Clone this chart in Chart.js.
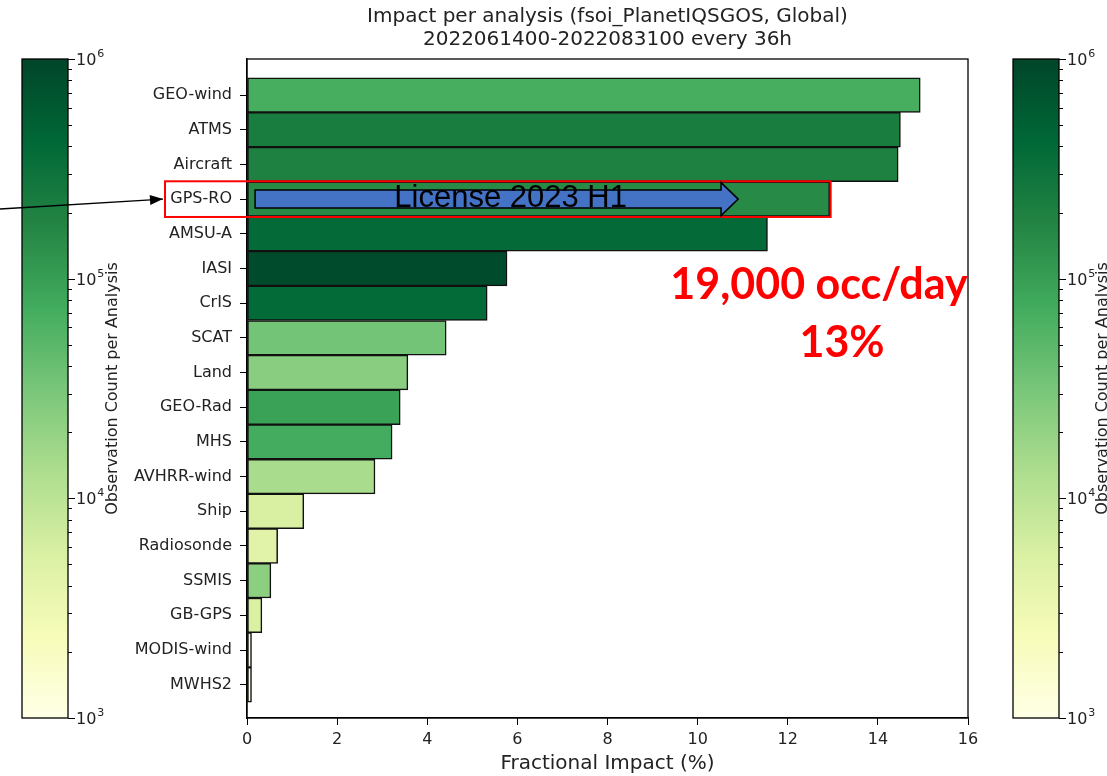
<!DOCTYPE html>
<html>
<head>
<meta charset="utf-8">
<script src="https://cdn.jsdelivr.net/npm/chart.js@4"></script>
<style>
body{margin:0;background:#fff;}
#wrap{position:relative;width:1107px;height:776px;overflow:hidden;background:#fff;}
#wrap canvas{position:absolute;top:0;}
#cbLeft{left:0;z-index:1;}
#cbRight{left:991px;z-index:1;}
#main{left:0;z-index:2;}
</style>
</head>
<body>
<div id="wrap">
<canvas id="cbLeft" width="140" height="776"></canvas>
<canvas id="cbRight" width="116" height="776"></canvas>
<canvas id="main" width="1107" height="776"></canvas>
</div>
<script>

// data
const categories = ["GEO-wind","ATMS","Aircraft","GPS-RO","AMSU-A","IASI","CrIS","SCAT","Land","GEO-Rad","MHS","AVHRR-wind","Ship","Radiosonde","SSMIS","GB-GPS","MODIS-wind","MWHS2"];
const impact = [14.94,14.50,14.45,12.93,11.55,5.77,5.33,4.42,3.57,3.40,3.22,2.84,1.26,0.68,0.53,0.33,0.10,0.10];
const obsCount = [68000,220000,200000,155000,380000,870000,390000,34000,24000,92000,72000,14000,5600,4600,22500,5400,1000,1000];
const xTicks = [0,2,4,6,8,10,12,14,16];
const cbMajor = [1e3,1e4,1e5,1e6];
const titleLines = ["Impact per analysis (fsoi_PlanetIQSGOS, Global)","2022061400-2022083100 every 36h"];
const xTitle = "Fractional Impact (%)";
const cbTitle = "Observation Count per Analysis";
const noteCategory = "GPS-RO";
const arrowText = "License 2023 H1";
const noteLines = ["19,000 occ/day","13%"];

const FONT = "'DejaVu Sans', sans-serif";
const TXT = "#222";

// matplotlib YlGn
const YLGN = ["#ffffe5","#f7fcb9","#d9f0a3","#addd8e","#78c679","#41ab5d","#238443","#006837","#004529"];

function hexRgb(h){
return [parseInt(h.slice(1,3),16),parseInt(h.slice(3,5),16),parseInt(h.slice(5,7),16)];
}

function ylgn(t){
t = Math.max(0, Math.min(1, t));
let p = t * (YLGN.length - 1);
let i = Math.min(Math.floor(p), YLGN.length - 2);
let f = p - i;
let a = hexRgb(YLGN[i]), b = hexRgb(YLGN[i+1]);
let c = a.map((v,k)=>Math.round(v + (b[k]-v)*f));
return `rgb(${c[0]},${c[1]},${c[2]})`;
}

function countColor(c){
return ylgn((Math.log10(c) - 3) / 3);
}

function colorbar(id, titleX){

let cbPlugin = {
id: "cbar",
beforeDatasetsDraw(chart){
let a = chart.chartArea;
let ctx = chart.ctx;
let g = ctx.createLinearGradient(0, a.bottom, 0, a.top);
YLGN.forEach((c,i)=>g.addColorStop(i/(YLGN.length-1), c));
ctx.save();
ctx.fillStyle = g;
ctx.fillRect(a.left, a.top, a.right-a.left, a.bottom-a.top);
ctx.restore();
},
afterDraw(chart){
let a = chart.chartArea;
let ctx = chart.ctx;
let sc = chart.scales.y;
ctx.save();
ctx.strokeStyle = "#000";
ctx.lineWidth = 1.3;
ctx.strokeRect(a.left, a.top, a.right-a.left, a.bottom-a.top);
ctx.lineWidth = 1;
sc.ticks.forEach(t=>{
let y = Math.round(sc.getPixelForValue(t.value)) + 0.5;
let major = cbMajor.includes(t.value);
ctx.beginPath();
ctx.moveTo(a.right, y);
ctx.lineTo(a.right + (major ? 7 : 4), y);
ctx.stroke();
});

// major labels as 10 with a raised exponent
ctx.fillStyle = TXT;
ctx.textAlign = "left";
ctx.textBaseline = "middle";
cbMajor.forEach(v=>{
let y = sc.getPixelForValue(v) + 2;
let x = a.right + 8;
ctx.font = "16px " + FONT;
ctx.fillText("10", x, y);
let w = ctx.measureText("10").width;
ctx.font = "11px " + FONT;
ctx.fillText(String(Math.round(Math.log10(v))), x + w + 1, y - 7);
});

ctx.font = "16px " + FONT;
ctx.textAlign = "center";
ctx.translate(titleX, (a.top + a.bottom) / 2);
ctx.rotate(-Math.PI/2);
ctx.fillText(cbTitle, 0, 0);
ctx.restore();
}
};

return new Chart(document.getElementById(id), {
type: "bar",
data: { labels: [], datasets: [] },
options: {
responsive: false,
animation: false,
devicePixelRatio: 1,
layout: { padding: { left: 22, top: 59, bottom: 58, right: 0 } },
plugins: { legend: { display: false }, tooltip: { enabled: false } },
scales: {
x: { display: false },
y: {
type: "logarithmic",
position: "right",
min: 1e3,
max: 1e6,
afterFit(s){ s.width = document.getElementById(id).width - 68; },
afterBuildTicks(s){
let t = [];
for(let e=0; e<cbMajor.length; e++){
for(let m=1; m<10; m++){
let v = cbMajor[e] * m;
if(v <= 1e6) t.push({value: v});
}
}
s.ticks = t;
},
grid: { display: false, drawTicks: false },
border: { display: false },
ticks: { display: false, autoSkip: false }
}
}
},
plugins: [cbPlugin]
});

}

colorbar("cbLeft", 113);
colorbar("cbRight", 112);

function drawArrowHead(ctx, x0, y0, x1, y1, len, w){
let ang = Math.atan2(y1-y0, x1-x0);
ctx.beginPath();
ctx.moveTo(x1, y1);
ctx.lineTo(x1 - len*Math.cos(ang) + w*Math.sin(ang), y1 - len*Math.sin(ang) - w*Math.cos(ang));
ctx.lineTo(x1 - len*Math.cos(ang) - w*Math.sin(ang), y1 - len*Math.sin(ang) + w*Math.cos(ang));
ctx.closePath();
ctx.fill();
}

let overlay = {
id: "overlay",
afterDraw(chart){
let ctx = chart.ctx;
let a = chart.chartArea;
let xs = chart.scales.x;
let ys = chart.scales.y;

ctx.save();

// axes frame
ctx.strokeStyle = "#000";
ctx.lineWidth = 1.3;
ctx.strokeRect(a.left, a.top, a.right-a.left, a.bottom-a.top);

// title
ctx.fillStyle = TXT;
ctx.font = "20px " + FONT;
ctx.textAlign = "center";
ctx.textBaseline = "middle";
let cx = (a.left + a.right) / 2;
ctx.fillText(titleLines[0], cx, 17);
ctx.fillText(titleLines[1], cx, 40);

// highlight box
let i = categories.indexOf(noteCategory);
let yc = ys.getPixelForValue(i);
let h = Math.abs(ys.getPixelForValue(i + 0.5) - ys.getPixelForValue(i - 0.5));
let boxL = a.left - 82;
let boxR = xs.getPixelForValue(impact[i]) + 1;
ctx.strokeStyle = "#ff0000";
ctx.lineWidth = 2;
ctx.strokeRect(boxL, yc - h/2 - 0.5, boxR - boxL, h + 1);

// blue arrow
let x0 = xs.getPixelForValue(0.18);
let xb = xs.getPixelForValue(10.52);
let xt = xs.getPixelForValue(10.9);
ctx.beginPath();
ctx.moveTo(x0, yc - 9);
ctx.lineTo(xb, yc - 9);
ctx.lineTo(xb, yc - 16.5);
ctx.lineTo(xt, yc);
ctx.lineTo(xb, yc + 16.5);
ctx.lineTo(xb, yc + 9);
ctx.lineTo(x0, yc + 9);
ctx.closePath();
ctx.fillStyle = "#4472c4";
ctx.fill();
ctx.strokeStyle = "#000";
ctx.lineWidth = 1.5;
ctx.stroke();

ctx.fillStyle = "#000";
ctx.font = "31px 'Liberation Sans', Arial, sans-serif";
ctx.textAlign = "center";
ctx.textBaseline = "middle";
ctx.fillText(arrowText, xs.getPixelForValue(5.85), yc - 1);

// pointer from left edge
ctx.strokeStyle = "#000";
ctx.lineWidth = 1.5;
ctx.beginPath();
ctx.moveTo(0, yc + 10);
ctx.lineTo(boxL - 2, yc);
ctx.stroke();
drawArrowHead(ctx, 0, yc + 10, boxL - 2, yc, 13, 5);

// red note
ctx.fillStyle = "#ff0000";
ctx.font = "bold 43px Lato, 'Open Sans', sans-serif";
ctx.textBaseline = "alphabetic";
ctx.textAlign = "center";
ctx.fillText(noteLines[0], 819, 299);
ctx.fillText(noteLines[1], 842, 357);

ctx.restore();
}
};

new Chart(document.getElementById("main"), {
type: "bar",
data: {
datasets: [{
data: impact.map((v,i)=>({x: v, y: i})),
backgroundColor: obsCount.map(countColor),
borderColor: "#111",
borderWidth: 1.5,
borderSkipped: false,
barPercentage: 1,
categoryPercentage: 1
}]
},
options: {
indexAxis: "y",
responsive: false,
animation: false,
devicePixelRatio: 1,
layout: { padding: { top: 59, right: 139, bottom: 0, left: 0 } },
plugins: { legend: { display: false }, tooltip: { enabled: false }, title: { display: false } },
scales: {
x: {
type: "linear",
min: 0,
max: 16,
offset: false,
afterFit(s){ s.height = 58; },
afterBuildTicks(s){ s.ticks = xTicks.map(v=>({value: v})); },
grid: { drawOnChartArea: false, offset: false, color: "#000", tickLength: 7, tickWidth: 1 },
border: { display: true, color: "#000", width: 1.3 },
ticks: { color: TXT, padding: 5, font: { family: FONT, size: 16 } },
title: { display: true, text: xTitle, color: TXT, font: { family: FONT, size: 20 }, padding: { top: 0, bottom: 0 } }
},
y: {
type: "linear",
reverse: true,
offset: false,
min: -1.04,
max: 17.96,
afterFit(s){ s.width = 247; },
afterBuildTicks(s){ s.ticks = categories.map((_,i)=>({value: i})); },
grid: { drawOnChartArea: false, offset: false, color: "#000", tickLength: 7, tickWidth: 1 },
border: { display: true, color: "#000", width: 1.3 },
ticks: { color: TXT, padding: 8, autoSkip: false, font: { family: FONT, size: 16 }, callback: (v)=>categories[v] }
}
}
},
plugins: [overlay]
});

</script>
</body>
</html>
